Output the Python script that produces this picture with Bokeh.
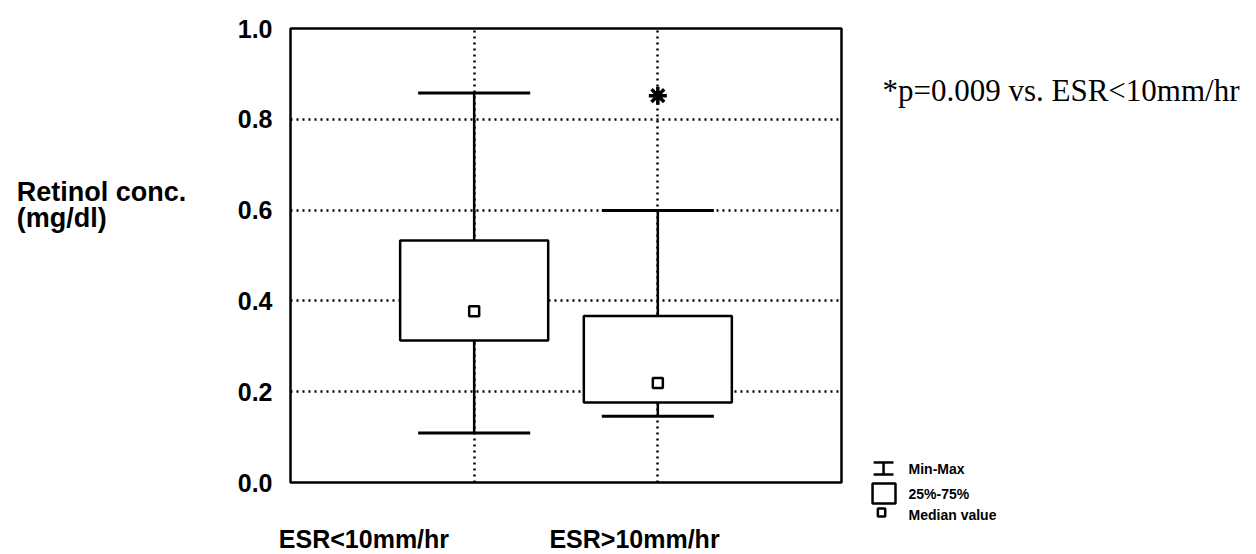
from bokeh.plotting import figure
from bokeh.models import Range1d, FixedTicker, PrintfTickFormatter
from bokeh.embed import file_html
from bokeh.resources import INLINE
from bokeh.core.properties import value

# ---------------- data ----------------
categories = ["ESR<10mm/hr", "ESR>10mm/hr"]
x_pos = [1, 2]
q1 = [0.313, 0.176]
q3 = [0.533, 0.367]
medians = [0.377, 0.219]
mins = [0.109, 0.146]
maxs = [0.858, 0.599]
sig_x = [2]
sig_y = [0.852]
y_ticks = [0.0, 0.2, 0.4, 0.6, 0.8, 1.0]
y_label_lines = ["Retinol conc.", "(mg/dl)"]
note_text = "*p=0.009 vs. ESR<10mm/hr"
legend_labels = ["Min-Max", "25%-75%", "Median value"]

# ---------------- style ----------------
BOX_HALF = 0.403
CAP_HALF = 0.305
LABEL_SHIFT = [-0.600, -0.127]
SANS = "Liberation Sans"
SERIF = "Liberation Serif"

p = figure(width=1256, height=554, frame_width=551, frame_height=454,
           min_border_left=290, min_border_right=415,
           min_border_top=28, min_border_bottom=72,
           x_range=Range1d(0, 3), y_range=Range1d(0, 1),
           output_backend="svg", toolbar_location=None)
p.background_fill_color = "white"
p.border_fill_color = "white"
p.outline_line_color = "black"
p.outline_line_width = 2.5

# grids
p.xgrid.ticker = FixedTicker(ticks=x_pos)
p.ygrid.ticker = FixedTicker(ticks=y_ticks)
for g in (p.xgrid, p.ygrid):
    g.grid_line_color = "black"
    g.grid_line_width = 2.5
    g.grid_line_dash = "2 4"

# axes
for ax in (p.xaxis, p.yaxis):
    ax.axis_line_color = None
    ax.major_tick_line_color = None
    ax.minor_tick_line_color = None
    ax.major_label_text_font = SANS
    ax.major_label_text_font_style = "bold"
    ax.major_label_text_font_size = "25px"
    ax.major_label_text_color = "black"

p.yaxis.ticker = FixedTicker(ticks=y_ticks)
p.yaxis.formatter = PrintfTickFormatter(format="%.1f")
p.yaxis.major_label_standoff = 12

xt = [round(x + s, 3) for x, s in zip(x_pos, LABEL_SHIFT)]
p.xaxis.ticker = FixedTicker(ticks=xt)
p.xaxis.major_label_overrides = {t: c for t, c in zip(xt, categories)}
p.xaxis.major_label_standoff = 36

# whiskers
p.segment(x0=x_pos, y0=q3, x1=x_pos, y1=maxs, line_color="black", line_width=2.5)
p.segment(x0=x_pos, y0=q1, x1=x_pos, y1=mins, line_color="black", line_width=2.5)
p.segment(x0=[x - CAP_HALF for x in x_pos], y0=maxs,
          x1=[x + CAP_HALF for x in x_pos], y1=maxs, line_color="black", line_width=3)
p.segment(x0=[x - CAP_HALF for x in x_pos], y0=mins,
          x1=[x + CAP_HALF for x in x_pos], y1=mins, line_color="black", line_width=3)

# boxes
p.quad(left=[x - BOX_HALF for x in x_pos], right=[x + BOX_HALF for x in x_pos],
       bottom=q1, top=q3, fill_color="white", line_color="black", line_width=2.5)

# medians
p.scatter(x=x_pos, y=medians, marker="square", size=10, fill_color="white",
          line_color="black", line_width=2.5)

# significance asterisk
p.scatter(x=sig_x, y=sig_y, marker="asterisk", size=18, line_color="black", line_width=3.5)

# y axis title (outside frame -> overlay level text glyph)
p.text(x=[-1.49, -1.49], y=[0.6388, 0.5815], text=y_label_lines,
       text_font=value(SANS), text_font_style="bold", text_font_size="27px",
       text_color="black", text_baseline="middle", text_align="left",
       level="overlay")

# note
p.text(x=[3.223], y=[0.8634], text=[note_text], text_font=value(SERIF),
       text_font_size="31px", text_color="black", text_baseline="middle",
       text_align="left", level="overlay")

# legend key (drawn outside the frame)
lx = 3.229
p.segment(x0=[lx, lx - 0.054, lx - 0.054], y0=[0.0441, 0.0441, 0.0176],
          x1=[lx, lx + 0.054, lx + 0.054], y1=[0.0176, 0.0441, 0.0176],
          line_color="black", line_width=2.5, level="overlay")
p.quad(left=[3.169], right=[3.294], bottom=[-0.0463], top=[-0.0022],
       fill_color="white", line_color="black", line_width=2.5, level="overlay")
p.quad(left=[3.198], right=[3.238], bottom=[-0.0749], top=[-0.0573],
       fill_color="white", line_color="black", line_width=2.5, level="overlay")

p.text(x=[3.365] * 3, y=[0.0308, -0.0264, -0.0716], text=legend_labels,
       text_font=value(SANS), text_font_style="bold", text_font_size="14px",
       text_color="black", text_baseline="middle", text_align="left",
       level="overlay")

open("out.html", "w").write(file_html(p, INLINE))
